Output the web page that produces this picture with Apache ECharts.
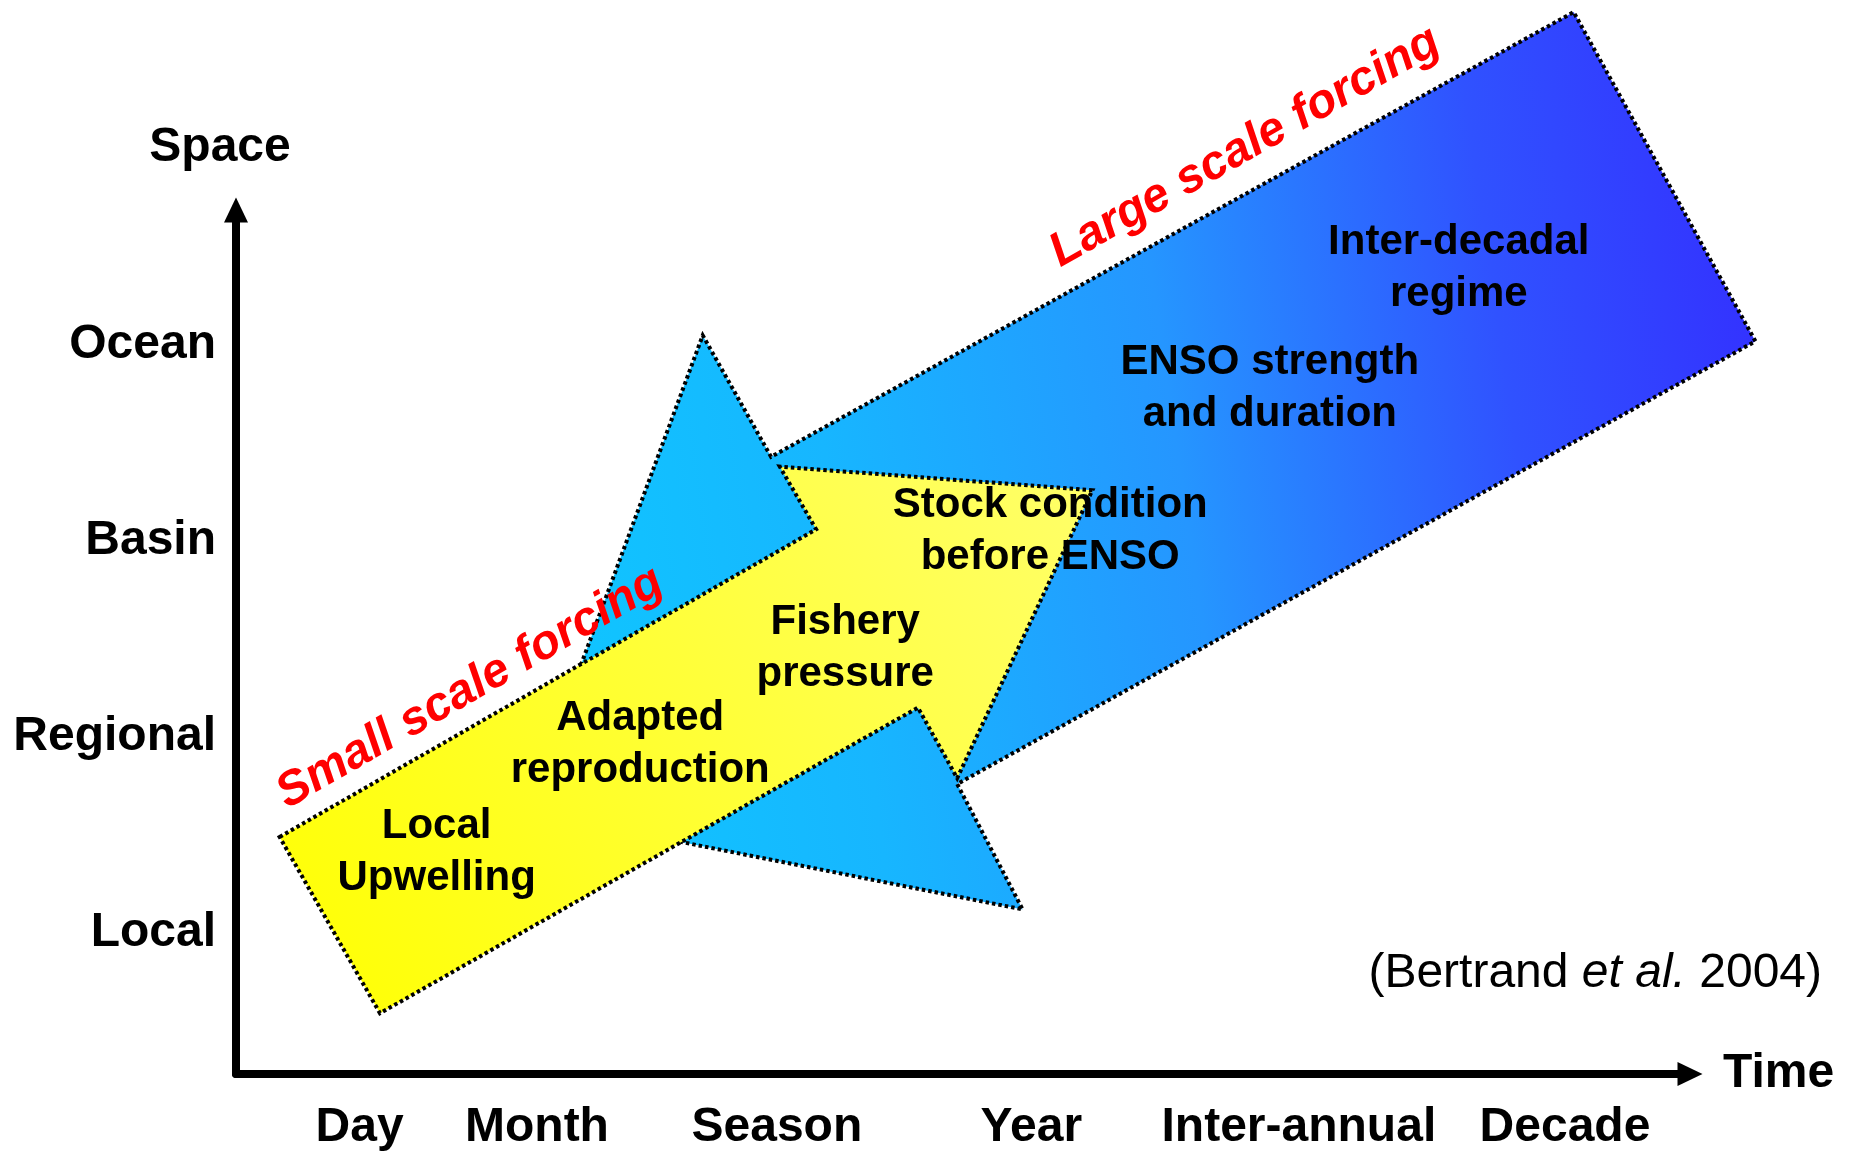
<!DOCTYPE html>
<html><head><meta charset="utf-8">
<script src="https://cdn.jsdelivr.net/npm/echarts@6/dist/echarts.min.js"></script>
<style>html,body{margin:0;padding:0;background:#fff}#chart{width:1852px;height:1151px}</style>
</head><body><div id="chart"></div>
<script>
// Axis tick labels and their positions on the (conceptual) scales
const timeLabels = ['Day', 'Month', 'Season', 'Year', 'Inter-annual', 'Decade'];
const timeValues = [0.85, 2.07, 3.72, 5.47, 7.31, 9.14];
const spaceLabels = ['Local', 'Regional', 'Basin', 'Ocean'];
const spaceValues = [1, 2, 3, 4];

// Arrow outlines in (time, space) units
const largeScaleArrow = [[2.00, 1.62], [3.21, 4.05], [3.68, 3.43], [9.20, 5.70], [10.45, 4.02], [4.96, 1.76], [5.41, 1.12]];
const smallScaleArrow = [[0.30, 1.49], [3.99, 3.06], [3.74, 3.38], [5.89, 3.26], [4.96, 1.79], [4.69, 2.15], [0.99, 0.59]];

// Process labels
const processLabels = ['Local\nUpwelling', 'Adapted\nreproduction', 'Fishery\npressure', 'Stock condition\nbefore ENSO', 'ENSO strength\nand duration', 'Inter-decadal\nregime'];
const processX = [1.38, 2.78, 4.19, 5.60, 7.11, 8.41];
const processY = [1.41, 1.96, 2.45, 3.05, 3.78, 4.39];

// Forcing labels
const forcingLabels = ['Small scale forcing', 'Large scale forcing'];
const forcingX = [1.61, 6.94];
const forcingY = [2.25, 5.01];
const forcingAngle = [30, 29.6];

const FONT = '"Liberation Sans", Arial, Helvetica, sans-serif';

function nearestLabel(v, values, labels) {
  let best = 0;
  for (let i = 1; i < values.length; i++) {
    if (Math.abs(values[i] - v) < Math.abs(values[best] - v)) best = i;
  }
  return labels[best];
}

function arrowSeries(name, pts, fill, z) {
  return {
    type: 'custom', name: name, coordinateSystem: 'cartesian2d', z: z, silent: true,
    data: pts, encode: { x: 0, y: 1 },
    renderItem: function (params, api) {
      if (params.dataIndex !== 0) return null;
      const points = pts.map(function (p) { return api.coord(p); });
      return {
        type: 'polygon', shape: { points: points },
        style: { fill: fill, stroke: '#000', lineWidth: 4, lineDash: [3.5, 3] }
      };
    }
  };
}

const blueFill = new echarts.graphic.LinearGradient(0, 0.6, 1, 0.4, [
  { offset: 0, color: '#0FC6FF' },
  { offset: 0.25, color: '#17B6FF' },
  { offset: 0.53, color: '#2596FF' },
  { offset: 0.8, color: '#3052FF' },
  { offset: 1, color: '#3333FF' }
]);
const yellowFill = new echarts.graphic.LinearGradient(0, 1, 1, 0, [
  { offset: 0, color: '#FFFF00' },
  { offset: 1, color: '#FFFF6A' }
]);

const chart = echarts.init(document.getElementById('chart'), null, { renderer: 'canvas' });
chart.setOption({
  animation: false,
  backgroundColor: '#ffffff',
  title: {
    text: '(Bertrand {i|et al.} 2004)',
    right: 25, top: 945,
    textStyle: {
      fontFamily: FONT, fontSize: 48, fontWeight: 'normal', color: '#000', lineHeight: 48,
      rich: { i: { fontFamily: FONT, fontSize: 48, fontStyle: 'italic', color: '#000', lineHeight: 48 } }
    }
  },
  grid: { left: 236, right: 162, top: 210, bottom: 77, outerBoundsMode: 'none', containLabel: false },
  xAxis: {
    type: 'value', min: 0, max: 10,
    name: 'Time', nameLocation: 'end', nameGap: 33,
    nameTextStyle: { fontFamily: FONT, fontSize: 48, fontWeight: 'bold', color: '#000', padding: [0, 0, 14, 0] },
    axisLine: { show: true, lineStyle: { color: '#000', width: 8 }, symbol: ['none', 'triangle'], symbolSize: [24, 25] },
    axisTick: { show: false }, splitLine: { show: false },
    axisLabel: {
      customValues: timeValues, margin: 30,
      fontFamily: FONT, fontSize: 48, fontWeight: 'bold', color: '#000',
      formatter: function (v) { return nearestLabel(v, timeValues, timeLabels); }
    }
  },
  yAxis: {
    type: 'value', min: 0.28, max: 4.69,
    name: 'Space', nameLocation: 'end', nameGap: 38,
    nameTextStyle: { fontFamily: FONT, fontSize: 48, fontWeight: 'bold', color: '#000', padding: [0, 32, 0, 0] },
    axisLine: { show: true, lineStyle: { color: '#000', width: 8 }, symbol: ['none', 'triangle'], symbolSize: [24, 25] },
    axisTick: { show: false }, splitLine: { show: false },
    axisLabel: {
      customValues: spaceValues, margin: 20,
      fontFamily: FONT, fontSize: 48, fontWeight: 'bold', color: '#000',
      formatter: function (v) { return nearestLabel(v, spaceValues, spaceLabels); }
    }
  },
  series: [
    arrowSeries('Large scale', largeScaleArrow, blueFill, 2),
    arrowSeries('Small scale', smallScaleArrow, yellowFill, 3),
    {
      type: 'custom', name: 'processes', coordinateSystem: 'cartesian2d', z: 5, silent: true,
      data: processX.map(function (x, i) { return [x, processY[i], i]; }),
      encode: { x: 0, y: 1 },
      renderItem: function (params, api) {
        const p = api.coord([api.value(0), api.value(1)]);
        return {
          type: 'text', x: p[0], y: p[1],
          style: {
            text: processLabels[api.value(2)], fontFamily: FONT, fontSize: 42, fontWeight: 'bold',
            fill: '#000', align: 'center', verticalAlign: 'middle', lineHeight: 52
          }
        };
      }
    },
    {
      type: 'custom', name: 'forcing', coordinateSystem: 'cartesian2d', z: 6, silent: true,
      data: forcingX.map(function (x, i) { return [x, forcingY[i], i]; }),
      encode: { x: 0, y: 1 },
      renderItem: function (params, api) {
        const p = api.coord([api.value(0), api.value(1)]);
        const i = api.value(2);
        return {
          type: 'text', x: p[0], y: p[1], rotation: forcingAngle[i] * Math.PI / 180,
          style: {
            text: forcingLabels[i], fontFamily: FONT, fontSize: 48, fontWeight: 'bold', fontStyle: 'italic',
            fill: '#FF0000', align: 'center', verticalAlign: 'middle'
          }
        };
      }
    }
  ]
});
</script>
</body></html>
